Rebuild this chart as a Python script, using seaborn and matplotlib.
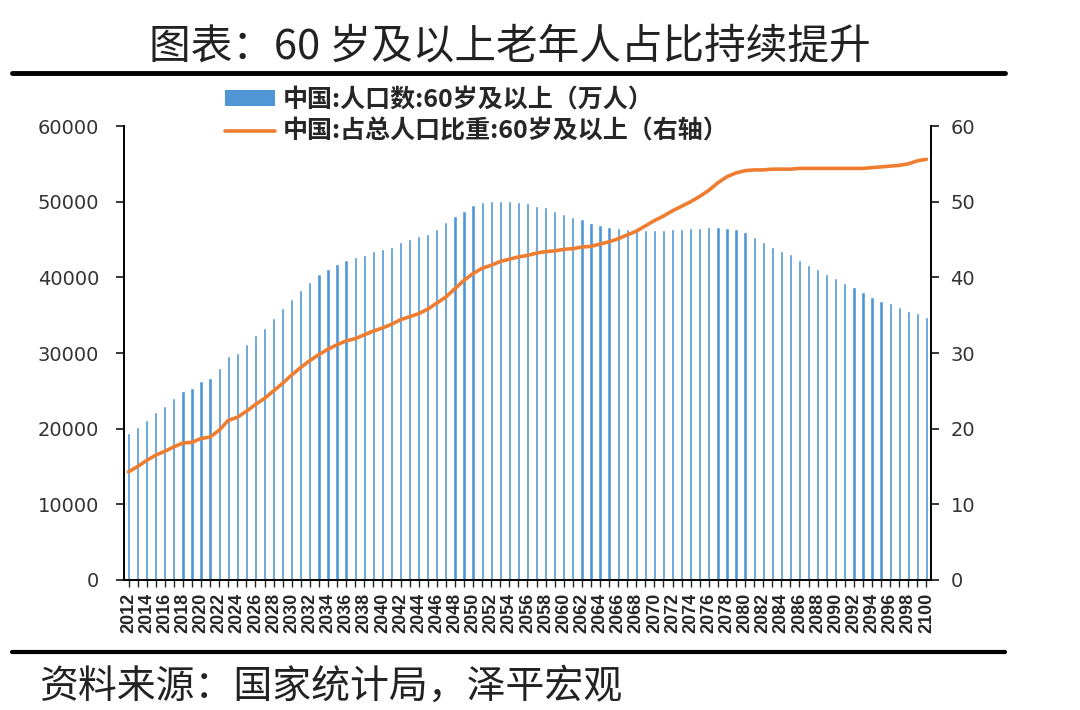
import numpy as np
import matplotlib.pyplot as plt
import seaborn as sns
from matplotlib.lines import Line2D
from matplotlib.patches import Patch

# years 2012-2100
years = list(range(2012, 2101))

# 中国:人口数:60岁及以上（万人）
pop_60 = [
    19390, 20260, 21140, 22160, 23040, 24100, 24980, 25330, 26340, 26740,
    27970, 29640, 29950, 31190, 32380, 33260, 34670, 35900, 37090, 38320,
    39340, 40400, 41100, 41760, 42290, 42690, 42990, 43520, 43700, 44050,
    44710, 45110, 45460, 45770, 46340, 47350, 48100, 48810, 49560, 49950,
    50130, 50130, 50130, 50000, 49780, 49420, 49250, 48810, 48370, 48020,
    47660, 47130, 46910, 46600, 46470, 46340, 46250, 46300, 46250, 46200,
    46340, 46340, 46470, 46470, 46690, 46690, 46470, 46340, 45940, 45280,
    44710, 44050, 43520, 43040, 42290, 41630, 41100, 40440, 39870, 39210,
    38680, 38100, 37440, 36910, 36560, 36030, 35550, 35240, 34800,
]

# 中国:占总人口比重:60岁及以上（%，右轴）
share_60 = [
    14.3, 15.0, 15.8, 16.5, 17.0, 17.6, 18.1, 18.2, 18.7, 18.9,
    19.8, 21.1, 21.5, 22.3, 23.2, 24.0, 25.0, 26.0, 27.1, 28.1,
    29.0, 29.8, 30.5, 31.1, 31.6, 31.9, 32.4, 32.9, 33.3, 33.8,
    34.4, 34.8, 35.2, 35.8, 36.6, 37.4, 38.5, 39.6, 40.5, 41.2,
    41.6, 42.1, 42.4, 42.7, 42.9, 43.2, 43.4, 43.5, 43.7, 43.8,
    44.0, 44.1, 44.4, 44.7, 45.1, 45.6, 46.1, 46.8, 47.5, 48.1,
    48.8, 49.4, 50.0, 50.7, 51.5, 52.5, 53.3, 53.8, 54.1, 54.2,
    54.2, 54.3, 54.3, 54.3, 54.4, 54.4, 54.4, 54.4, 54.4, 54.4,
    54.4, 54.4, 54.5, 54.6, 54.7, 54.8, 55.0, 55.4, 55.6,
]

bar_label = "中国:人口数:60岁及以上（万人）"
line_label = "中国:占总人口比重:60岁及以上（右轴）"
title = "图表：60 岁及以上老年人占比持续提升"
source = "资料来源：国家统计局，泽平宏观"

bar_color = "#4e96d6"
line_color = "#ED7D31"

sns.set_style("ticks")
plt.rcParams["font.family"] = ["DejaVu Sans", "Noto Sans CJK SC"]

fig = plt.figure(figsize=(10.8, 7.1), dpi=100)
ax = fig.add_axes([0.1148, 0.1831, 0.7472, 0.6394])

pos = np.arange(len(years))
sns.barplot(x=[str(y) for y in years], y=pop_60, color=bar_color,
            saturation=1, width=0.36, ax=ax)

ax2 = ax.twinx()
sns.lineplot(x=pos, y=share_60, color=line_color, linewidth=2.6, ax=ax2)

ax.set_xlim(-0.5, len(years) - 0.5)
ax.set_ylim(0, 60000)
ax.set_yticks(range(0, 60001, 10000))
ax2.set_ylim(0, 60)
ax2.set_yticks(range(0, 61, 10))

ax.set_xticks(pos)
ax.set_xticklabels([str(y) if y % 2 == 0 else "" for y in years],
                   rotation=90, fontsize=13, fontweight="bold",
                   family="Liberation Sans")
ax.set_xlabel("")
ax.set_ylabel("")
ax2.set_ylabel("")

for a in (ax, ax2):
    a.spines["top"].set_visible(False)
    for s in a.spines.values():
        s.set_color("black")
        s.set_linewidth(1.4)
ax.spines["right"].set_visible(False)
ax2.spines["left"].set_visible(False)
ax2.spines["bottom"].set_visible(False)

ax.tick_params(axis="y", labelsize=14, length=6, width=1.3, direction="out",
               pad=12, labelcolor="#333333")
ax.tick_params(axis="x", length=5, width=1.0, direction="out", pad=4)
ax2.tick_params(axis="y", labelsize=14, length=6, width=1.3, direction="out",
                pad=8, labelcolor="#333333")

handles = [Patch(facecolor=bar_color, edgecolor="none"),
           Line2D([0], [0], color=line_color, linewidth=2.6)]
fig.legend(handles, [bar_label, line_label], loc="upper left",
           bbox_to_anchor=(0.199, 0.89), frameon=False,
           prop={"family": ["Noto Sans CJK SC"], "weight": "bold", "size": 18},
           handlelength=2.0, handleheight=0.6, handletextpad=0.3,
           labelspacing=0.3, borderaxespad=0)

fig.text(0.472, 0.934, title, ha="center", va="center", fontsize=30,
         family=["Noto Sans CJK SC", "DejaVu Sans"], color="#222222")
fig.text(0.036, 0.033, source, ha="left", va="center", fontsize=28,
         family=["Noto Sans CJK SC", "DejaVu Sans"], color="#222222")

fig.add_artist(Line2D([0.011, 0.931], [0.897, 0.897], color="black",
                      linewidth=3.5, transform=fig.transFigure))
fig.add_artist(Line2D([0.011, 0.931], [0.082, 0.082], color="black",
                      linewidth=3, transform=fig.transFigure))

fig.savefig("out.png", dpi=100)
